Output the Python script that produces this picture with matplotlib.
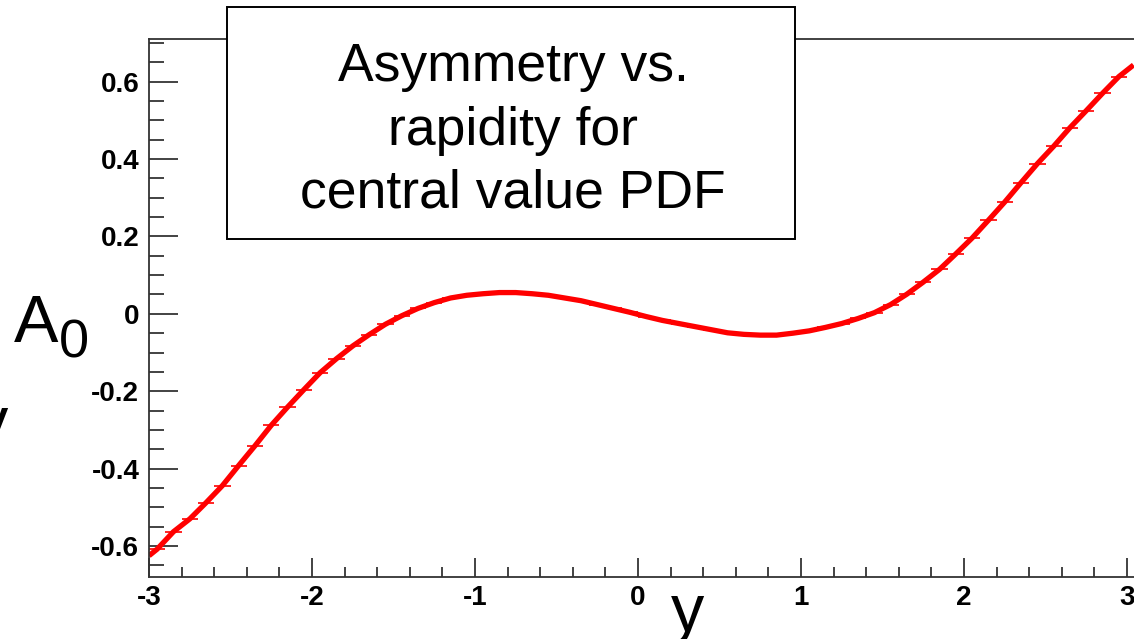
import matplotlib
matplotlib.use('Agg')
import matplotlib.pyplot as plt
import matplotlib.patches as mpatches
from matplotlib.ticker import MultipleLocator, FixedLocator, FixedFormatter
import numpy as np

plt.rcParams['font.family'] = ['Liberation Sans', 'DejaVu Sans']
plt.rcParams['axes.unicode_minus'] = False

# bin centres of the rapidity histogram (60 bins from -3 to 3)
rapidity = np.arange(-2.95, 3.0, 0.1)
asym = [-0.608, -0.563, -0.530, -0.488, -0.444, -0.392, -0.341, -0.288, -0.241, -0.196,
        -0.152, -0.116, -0.083, -0.054, -0.027, -0.005, 0.014, 0.029, 0.041, 0.048,
        0.052, 0.055, 0.055, 0.052, 0.048, 0.041, 0.034, 0.024, 0.014, 0.004,
        -0.007, -0.017, -0.025, -0.033, -0.041, -0.049, -0.053, -0.055, -0.055, -0.050,
        -0.044, -0.035, -0.025, -0.012, 0.003, 0.024, 0.051, 0.082, 0.115, 0.155,
        0.196, 0.242, 0.289, 0.339, 0.388, 0.433, 0.481, 0.525, 0.570, 0.613]
bin_half = 0.05
# the smooth curve runs on to the frame edges
edge_x = [-3.0, 3.04]
edge_y = [-0.625, 0.643]

xtick_vals = [-3, -2, -1, 0, 1, 2, 3]
xtick_labels = ['-3', '-2', '-1', '0', '1', '2', '3']
ytick_vals = [-0.6, -0.4, -0.2, 0, 0.2, 0.4, 0.6]
ytick_labels = ['-0.6', '-0.4', '-0.2', '0', '0.2', '0.4', '0.6']

W, H = 1134, 639
fig = plt.figure(figsize=(W / 100, H / 100), dpi=100)

# frame: left spine at 149px, bottom 577px, top 39px, right runs past the edge
left, right, bottom, top = 149, 1150, 577, 38.7
ax = fig.add_axes([left / W, (H - bottom) / H, (right - left) / W, (bottom - top) / H])
px_per_unit = (1127 - 149) / 6.0
ax.set_xlim(-3, 3 + (right - 1127) / px_per_unit)
ax.set_ylim(-0.680, 0.711)

curve_x = np.concatenate([[edge_x[0]], rapidity, [edge_x[1]]])
curve_y = [edge_y[0]] + asym + [edge_y[1]]
ax.errorbar(rapidity, asym, xerr=bin_half, fmt='none', ecolor='red', elinewidth=1.2)
ax.plot(curve_x, curve_y, color='red', lw=3.8, solid_capstyle='butt')

ax.xaxis.set_major_locator(FixedLocator(xtick_vals))
ax.xaxis.set_major_formatter(FixedFormatter(xtick_labels))
ax.xaxis.set_minor_locator(MultipleLocator(0.2))
ax.yaxis.set_major_locator(FixedLocator(ytick_vals))
ax.yaxis.set_major_formatter(FixedFormatter(ytick_labels))
ax.yaxis.set_minor_locator(MultipleLocator(0.05))

ax.tick_params(axis='y', which='major', direction='in', length=21, width=1.2,
               labelsize=20, pad=7, color='#222222')
ax.tick_params(axis='y', which='minor', direction='in', length=11, width=1.2, color='#222222')
ax.tick_params(axis='x', which='major', direction='in', length=14, width=1.2,
               labelsize=20, pad=6, color='#222222')
ax.tick_params(axis='x', which='minor', direction='in', length=7.5, width=1.2, color='#222222')
for lab in ax.get_xticklabels() + ax.get_yticklabels():
    lab.set_fontweight('bold')
for s in ax.spines.values():
    s.set_linewidth(1.3)
    s.set_color('#333333')

# title box
box = mpatches.Rectangle((227 / W, 1 - 239 / H), (795 - 227) / W, (239 - 7) / H,
                         transform=fig.transFigure, facecolor='white',
                         edgecolor='black', lw=1.4, zorder=5)
fig.patches.append(box)
for txt, base in [('Asymmetry vs.', 81), ('rapidity for', 145), ('central value PDF', 207)]:
    fig.text(513 / W, 1 - base / H, txt, ha='center', va='baseline', fontsize=38.5, zorder=6)

# axis labels
fig.text(14 / W, 1 - 342 / H, 'A', ha='left', va='baseline', fontsize=48)
fig.text(59 / W, 1 - 357 / H, '0', ha='left', va='baseline', fontsize=39)
fig.text(8 / W, 1 - 443 / H, 'y', ha='right', va='baseline', fontsize=48)
fig.text(688 / W, 1 - 631 / H, 'y', ha='center', va='baseline', fontsize=48)

fig.savefig('out.png', dpi=100)
